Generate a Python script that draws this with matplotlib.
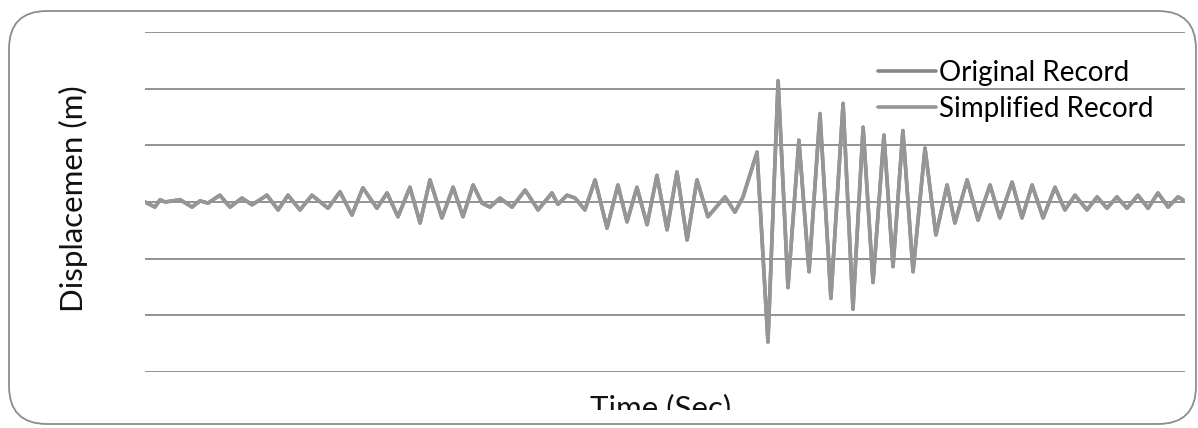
import matplotlib
matplotlib.use("Agg")
import matplotlib.pyplot as plt
from matplotlib.patches import FancyBboxPatch
from matplotlib.transforms import IdentityTransform, Bbox

# Time (s) and displacement values
time_s = [0.00, 0.38, 0.58, 0.77, 1.35, 1.81, 2.12, 2.42, 2.88, 3.27,
          3.73, 4.12, 4.69, 5.12, 5.50, 5.96, 6.42, 7.04, 7.50, 7.96,
          8.38, 8.92, 9.31, 9.73, 10.19, 10.58, 10.96, 11.42, 11.85, 12.23,
          12.62, 12.96, 13.27, 13.65, 14.12, 14.62, 15.12, 15.65, 15.88, 16.23,
          16.54, 16.92, 17.31, 17.77, 18.19, 18.54, 18.92, 19.31, 19.69, 20.08,
          20.46, 20.85, 21.23, 21.65, 22.31, 22.69, 23.00, 23.54, 23.96, 24.35,
          24.73, 25.15, 25.54, 25.96, 26.38, 26.85, 27.23, 27.62, 28.00, 28.42,
          28.77, 29.15, 29.54, 30.00, 30.42, 30.85, 31.15, 31.62, 32.04, 32.50,
          32.88, 33.35, 33.73, 34.12, 34.54, 35.00, 35.38, 35.77, 36.23, 36.62,
          37.00, 37.38, 37.77, 38.19, 38.58, 38.96, 39.35, 39.73, 39.92]
disp = [0.00, -0.09, 0.04, 0.00, 0.04, -0.09, 0.02, -0.02, 0.12, -0.09,
        0.07, -0.05, 0.12, -0.14, 0.12, -0.14, 0.12, -0.11, 0.18, -0.23,
        0.25, -0.11, 0.16, -0.26, 0.26, -0.37, 0.39, -0.28, 0.26, -0.26,
        0.30, -0.02, -0.09, 0.07, -0.09, 0.21, -0.14, 0.16, -0.04, 0.12,
        0.07, -0.14, 0.39, -0.46, 0.30, -0.35, 0.26, -0.40, 0.47, -0.49,
        0.53, -0.67, 0.39, -0.26, 0.09, -0.18, 0.09, 0.88, -2.47, 2.14,
        -1.51, 1.09, -1.23, 1.56, -1.70, 1.74, -1.89, 1.32, -1.42, 1.18,
        -1.14, 1.26, -1.23, 0.95, -0.58, 0.30, -0.37, 0.39, -0.32, 0.30,
        -0.28, 0.35, -0.28, 0.30, -0.28, 0.26, -0.14, 0.12, -0.14, 0.09,
        -0.11, 0.09, -0.11, 0.12, -0.11, 0.16, -0.09, 0.09, 0.04]

series_labels = ["Original Record", "Simplified Record"]
y_label = "Displacemen (m)"
x_label = "Time (Sec)"

FONT = ["Lato", "DejaVu Sans"]
FS_LEG = 20
FS_AX = 22.5

fig = plt.figure(figsize=(11.98, 4.28), dpi=100)
fig.patch.set_facecolor("white")

# rounded outer border
border = FancyBboxPatch((9, 4), 1187, 413, boxstyle="round,pad=0,rounding_size=38",
                        transform=IdentityTransform(), facecolor="none",
                        edgecolor="#8c8c8c", linewidth=1.3)
fig.patches.append(border)

ax = fig.add_axes([145 / 1198, 56 / 428, 1040 / 1198, 340 / 428])
ax.set_xlim(0, 40)
ax.set_ylim(-3, 3)
ax.set_yticks([-3, -2, -1, 0, 1, 2, 3])
ax.set_xticks([])
ax.tick_params(left=False, labelleft=False, bottom=False, labelbottom=False)
for s in ax.spines.values():
    s.set_visible(False)
ax.yaxis.grid(True, color="#8a8a8a", linewidth=1.3)
ax.set_axisbelow(True)

ax.plot(time_s, disp, color="#858585", linewidth=2.6, label=series_labels[0],
        solid_joinstyle="round", solid_capstyle="round")
ax.plot(time_s, disp, color="#969696", linewidth=2.6, label=series_labels[1],
        solid_joinstyle="round", solid_capstyle="round")

leg = ax.legend(loc="upper left", bbox_to_anchor=(878 / 1198, 1 - 60 / 428),
                bbox_transform=fig.transFigure, frameon=False,
                prop={"family": FONT, "size": FS_LEG}, handlelength=2.1,
                handletextpad=0.1, labelspacing=0.36, borderpad=0,
                borderaxespad=0)

fig.text(73 / 1198, 1 - 199 / 428, y_label, rotation=90, ha="center", va="center",
         family=FONT, fontsize=FS_AX, color="#111111")
xt = fig.text(661 / 1198, 1 - 408 / 428, x_label, ha="center", va="center",
              family=FONT, fontsize=FS_AX, color="#111111")
xt.set_clip_box(Bbox.from_extents(0, 428 - 410, 1198, 428))
xt.set_clip_on(True)

fig.savefig("out.png", dpi=100, facecolor="white")
